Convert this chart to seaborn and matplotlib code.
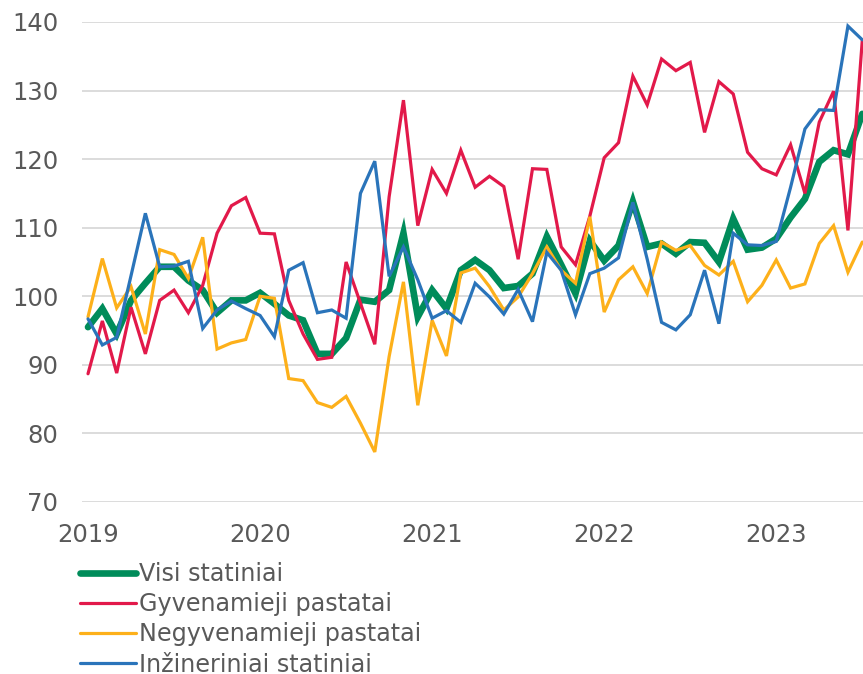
import numpy as np
import pandas as pd
import matplotlib
matplotlib.use("Agg")
import matplotlib.pyplot as plt
import seaborn as sns

# ---- data (monthly index, Jan 2019 .. Jul 2023) ----
years = ["2019", "2020", "2021", "2022", "2023"]
series_names = ["Visi statiniai", "Gyvenamieji pastatai",
                "Negyvenamieji pastatai", "Inžineriniai statiniai"]

visi = [95.5, 98.2, 94.5, 99.4, 101.9, 104.3, 104.3, 102.3, 100.9, 97.6,
        99.4, 99.4, 100.5, 98.9, 97.2, 96.5, 91.6, 91.6, 93.9, 99.5,
        99.2, 100.9, 109.2, 97.0, 100.9, 98.2, 103.8, 105.3, 103.8, 101.2,
        101.5, 103.3, 108.7, 104.6, 100.4, 108.1, 105.2, 107.4, 113.8, 107.2,
        107.7, 106.2, 107.9, 107.8, 105.0, 111.3, 106.8, 107.1, 108.4, 111.5,
        114.2, 119.6, 121.3, 120.7, 126.6]

gyven = [88.7, 96.4, 88.8, 98.4, 91.6, 99.4, 100.9, 97.6, 101.6, 109.2,
         113.2, 114.4, 109.2, 109.1, 99.4, 94.5, 90.8, 91.1, 105.0, 99.0,
         93.0, 114.5, 128.6, 110.3, 118.5, 115.0, 121.3, 115.9, 117.5, 116.0,
         105.4, 118.6, 118.5, 107.2, 104.6, 111.7, 120.2, 122.4, 132.1, 127.9,
         134.6, 132.9, 134.1, 123.9, 131.3, 129.5, 121.0, 118.6, 117.7, 122.1,
         115.0, 125.4, 129.9, 109.6, 137.3]

negyven = [97.0, 105.5, 98.3, 101.4, 94.5, 106.8, 106.1, 102.6, 108.6, 92.3,
           93.2, 93.7, 100.0, 99.7, 88.0, 87.7, 84.5, 83.8, 85.4, 81.5,
           77.3, 91.2, 102.1, 84.1, 96.5, 91.3, 103.4, 104.1, 101.4, 98.0,
           99.9, 103.3, 107.2, 103.8, 101.9, 111.6, 97.7, 102.4, 104.3, 100.4,
           107.9, 106.7, 107.4, 104.5, 103.1, 105.1, 99.2, 101.6, 105.3, 101.2,
           101.8, 107.7, 110.3, 103.5, 107.9]

inzin = [96.7, 92.9, 94.0, 103.0, 112.1, 104.3, 104.4, 105.1, 95.3, 98.0,
         99.3, 98.2, 97.2, 94.1, 103.8, 104.9, 97.6, 98.0, 96.8, 115.0,
         119.7, 102.9, 107.2, 102.4, 96.8, 97.9, 96.2, 101.9, 99.9, 97.4,
         101.0, 96.3, 106.4, 103.8, 97.3, 103.3, 104.1, 105.6, 113.7, 105.4,
         96.2, 95.1, 97.3, 103.8, 96.0, 109.2, 107.5, 107.4, 108.0, 115.9,
         124.4, 127.2, 127.1, 139.4, 137.4]

months = np.arange(len(visi))
yticks = [70, 80, 90, 100, 110, 120, 130, 140]

colors = ["#008C5A", "#E2194A", "#FDB01A", "#2A74BA"]
widths = [4.8, 2.3, 2.3, 2.3]

df = pd.DataFrame({"month": months, series_names[0]: visi,
                   series_names[1]: gyven, series_names[2]: negyven,
                   series_names[3]: inzin})

sns.set_style("white")
plt.rcParams["font.family"] = ["DejaVu Sans"]

fig = plt.figure(figsize=(8.63, 6.74), dpi=100)
ax = fig.add_axes([0.095, 0.2552, 0.905, 0.7122])

for i in [0, 1, 2, 3]:
    sns.lineplot(data=df, x="month", y=series_names[i], ax=ax,
                 color=colors[i], linewidth=widths[i], label=series_names[i],
                 solid_capstyle="round", solid_joinstyle="miter",
                 zorder=3 + (0 if i == 0 else 1))

ax.set_xlim(-0.42, 54.05)
ax.set_ylim(70, 140)
ax.set_yticks(yticks)
ax.set_yticklabels([str(v) for v in yticks])
ax.set_xticks([0, 12, 24, 36, 48])
ax.set_xticklabels(years)
ax.set_xlabel("")
ax.set_ylabel("")
ax.grid(axis="y", color="#d9d9d9", linewidth=1.3)
ax.grid(axis="x", visible=False)
for s in ax.spines.values():
    s.set_visible(False)
ax.tick_params(axis="both", length=0, labelsize=17.5, labelcolor="#595959")
ax.tick_params(axis="y", pad=17)
ax.tick_params(axis="x", pad=15)
ax.set_axisbelow(True)

handles, labels = ax.get_legend_handles_labels()
leg = ax.legend(handles, labels, loc="upper left",
                bbox_to_anchor=(80 / 863, 1 - 562 / 674),
                bbox_transform=fig.transFigure, frameon=False,
                fontsize=17.2, labelcolor="#595959", handlelength=2.35,
                handletextpad=0.12, labelspacing=0.26, borderaxespad=0,
                borderpad=0)

fig.savefig("out.png", dpi=100, facecolor="white")
